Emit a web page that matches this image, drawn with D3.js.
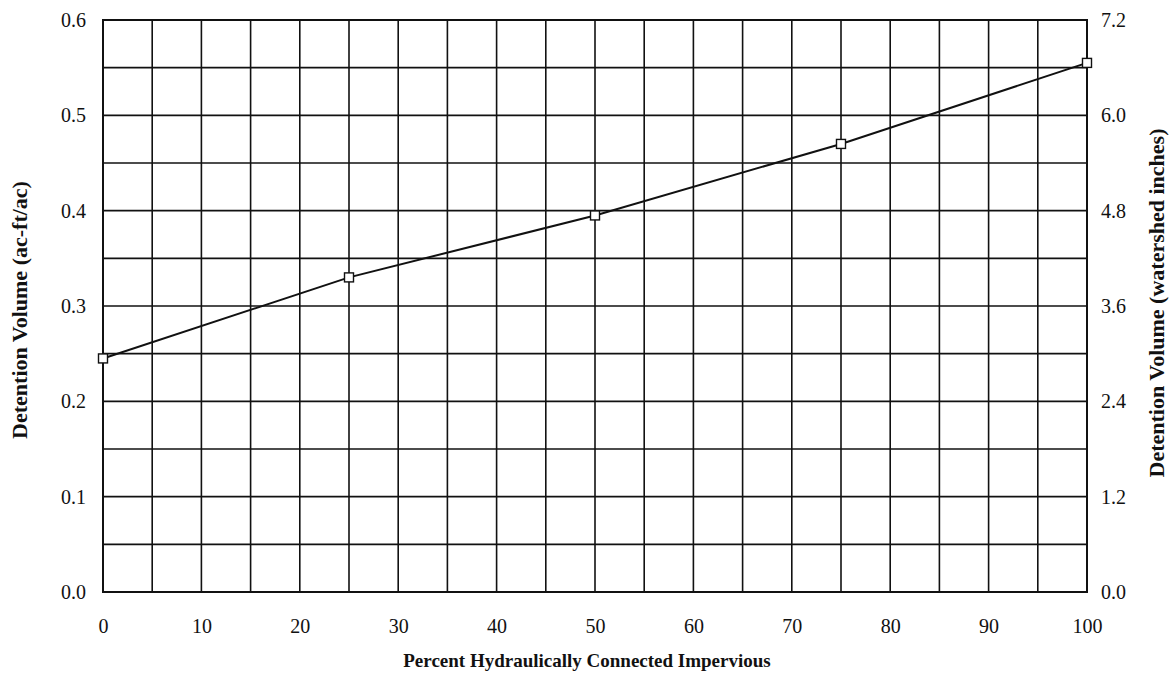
<!DOCTYPE html>
<html><head><meta charset="utf-8">
<script src="https://cdn.jsdelivr.net/npm/d3@7"></script>
<style>body{margin:0;background:#fff}svg{display:block}</style>
</head><body><svg id="c" width="1173" height="685"></svg>
<script>
const percentImpervious = [0, 25, 50, 75, 100];
const volumeAcFtPerAc = [0.245, 0.33, 0.395, 0.47, 0.555];
const xTicks = [0,10,20,30,40,50,60,70,80,90,100];
const yLeftTicks = [0,0.1,0.2,0.3,0.4,0.5,0.6];
const yRightTicks = [0,1.2,2.4,3.6,4.8,6.0,7.2];

const FONT = "'Liberation Serif','Times New Roman',serif";
const svg = d3.select("#c").attr("font-family", FONT);
const L=103, R=1087, T=20, B=592;
const x = d3.scaleLinear().domain([0,100]).range([L,R]);
const y = d3.scaleLinear().domain([0,0.6]).range([B,T]);
const y2 = d3.scaleLinear().domain([0,7.2]).range([B,T]);

const g = svg.append("g");
g.selectAll(".vg").data(d3.range(0,101,5)).join("line")
 .attr("x1",d=>x(d)).attr("x2",d=>x(d)).attr("y1",T).attr("y2",B)
 .attr("stroke","#111").attr("stroke-width",1.6);
g.selectAll(".hg").data(d3.range(0,13).map(i=>i*0.05)).join("line")
 .attr("y1",d=>y(d)).attr("y2",d=>y(d)).attr("x1",L).attr("x2",R)
 .attr("stroke","#111").attr("stroke-width",1.6);
g.append("rect").attr("x",L).attr("y",T).attr("width",R-L).attr("height",B-T)
 .attr("fill","none").attr("stroke","#111").attr("stroke-width",2);

function styleAxis(s){
  s.attr("font-family",FONT).attr("font-size",20);
  s.select(".domain").remove();
  s.selectAll("text").attr("fill","#111").style("font-family",FONT);
}
svg.append("g").attr("transform",`translate(0,${B})`)
 .call(d3.axisBottom(x).tickValues(xTicks).tickSize(0).tickPadding(27)).call(styleAxis);
svg.append("g").attr("transform",`translate(${L},0)`)
 .call(d3.axisLeft(y).tickValues(yLeftTicks).tickSize(0).tickPadding(17).tickFormat(d3.format(".1f"))).call(styleAxis);
svg.append("g").attr("transform",`translate(${R},0)`)
 .call(d3.axisRight(y2).tickValues(yRightTicks).tickSize(0).tickPadding(14).tickFormat(d3.format(".1f"))).call(styleAxis);

const pts = percentImpervious.map((p,i)=>[p,volumeAcFtPerAc[i]]);
svg.append("path").datum(pts).attr("fill","none").attr("stroke","#111").attr("stroke-width",2)
 .attr("d", d3.line().x(d=>x(d[0])).y(d=>y(d[1])));
svg.selectAll(".m").data(pts).join("rect")
 .attr("x",d=>x(d[0])-4.5).attr("y",d=>y(d[1])-4.5).attr("width",9).attr("height",9)
 .attr("fill","#fff").attr("stroke","#111").attr("stroke-width",1.4);

function title(sel,fs){ return sel.attr("font-size",fs).attr("font-weight","bold").attr("fill","#111").attr("text-anchor","middle").style("font-family",FONT); }
svg.append("text").attr("x",587).attr("y",667).call(title,19).text("Percent Hydraulically Connected Impervious");
svg.append("text").attr("transform",`translate(27,310) rotate(-90)`).call(title,22).text("Detention Volume (ac-ft/ac)");
svg.append("text").attr("transform",`translate(1164,303) rotate(-90)`).call(title,22).text("Detention Volume (watershed inches)");
</script></body></html>
